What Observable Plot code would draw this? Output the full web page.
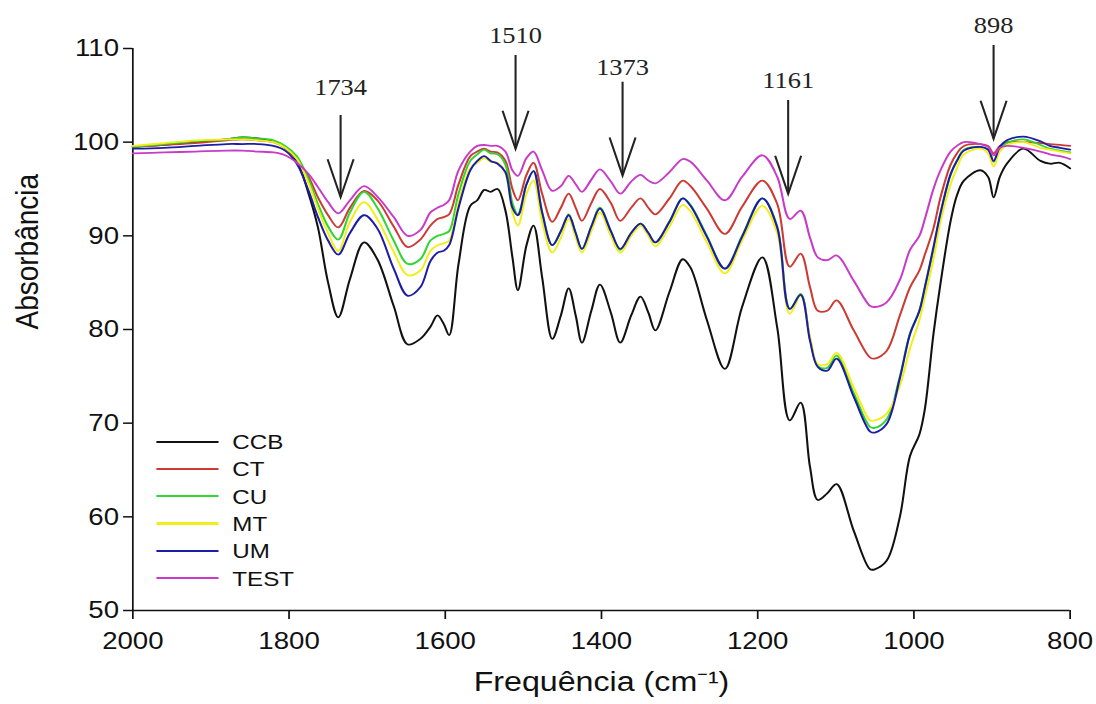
<!DOCTYPE html>
<html><head><meta charset="utf-8">
<script src="https://cdn.jsdelivr.net/npm/d3@7"></script>
<script src="https://cdn.jsdelivr.net/npm/@observablehq/plot@0.6"></script>
<style>
html,body{margin:0;padding:0;background:#fff;overflow:hidden}
#wrap{position:relative;width:953px;height:704px;transform:scaleX(1.15006);transform-origin:0 0;font-family:"Liberation Sans",Arial,sans-serif}
#legend{position:absolute;left:136px;top:428px}
.row{display:flex;align-items:center;height:27.3px}
.sw{width:54px;height:2.2px;margin-right:12px}
.lab{font-size:21px;color:#111;line-height:1}
</style></head><body><div id="wrap"><div id="chart"></div><div id="legend"></div></div>
<script>
const wavenumbers = [2000,1960,1920,1880,1860,1840,1820,1805,1790,1775,
 1763,1750,1737,1722,1704,1687,1666,1648,1632,1619,
 1610,1602,1595,1583,1568,1559,1550,1542,1533,1523,
 1514,1507,1496,1487,1476,1463,1452,1442,1433,1425,
 1413,1402,1388,1376,1362,1350,1340,1331,1313,1296,
 1286,1265,1242,1220,1194,1175,1159,1145,1133,1123,
 1111,1099,1077,1056,1050,1035,1018,1005,993,986,
 975,966,953,945,936,915,905,898,890,881,
 860,838,826,813,800];
const CCB = [99.5,99.7,100.0,100.3,100.5,100.4,100.1,99.4,98.0,94.5,
 90.9,85.0,81.3,85.4,89.3,87.5,82.5,78.4,79.0,80.3,
 81.5,80.6,79.4,87.0,93.2,93.8,94.9,94.7,95.0,92.7,
 87.7,84.2,89.0,91.1,85.6,79.0,81.5,84.4,81.5,78.6,
 82.0,84.8,81.8,78.6,81.5,83.5,81.8,79.9,84.0,87.5,
 86.6,81.0,75.8,82.4,87.7,80.2,70.3,72.2,65.3,61.8,
 62.5,63.5,58.5,54.4,54.4,55.3,60.0,66.5,68.8,71.5,
 79.5,84.9,91.6,94.3,95.9,97.0,96.3,94.1,96.3,97.7,
 99.3,98.0,97.7,97.8,97.2];
const CT = [99.5,99.7,99.9,100.2,100.3,100.2,100.0,99.4,98.2,96.3,
 94.1,92.2,90.9,93.0,94.8,93.8,91.0,88.8,89.6,91.1,
 91.8,92.0,92.3,95.5,98.5,99.0,99.3,99.0,98.9,98.0,
 95.0,93.8,96.5,97.8,94.5,91.5,93.0,94.5,93.0,91.6,
 93.5,95.0,93.5,91.6,93.0,94.0,93.0,92.3,94.0,95.9,
 95.3,92.9,90.2,93.1,95.9,93.4,86.7,88.1,84.5,82.0,
 82.0,83.1,79.9,77.0,76.9,77.7,81.5,84.5,86.3,88.0,
 90.8,94.1,97.6,98.8,99.6,99.8,99.6,98.8,99.6,100.0,
 100.0,99.9,99.8,99.7,99.6];
const CU = [99.5,99.8,100.1,100.3,100.5,100.4,100.2,99.6,98.5,96.0,
 93.4,91.0,89.6,92.5,94.7,93.0,89.5,87.0,87.5,89.5,
 90.0,90.2,90.5,94.5,98.0,98.7,99.2,98.8,98.7,97.6,
 93.5,92.3,95.5,96.9,92.5,89.0,90.5,92.3,90.3,88.6,
 91.0,93.0,90.5,88.5,90.3,91.3,90.3,89.3,91.5,94.0,
 93.3,90.0,86.5,90.0,94.0,91.0,82.2,83.8,79.0,76.1,
 75.9,77.2,73.2,69.6,69.5,70.4,75.0,79.6,82.0,84.5,
 88.5,92.4,96.5,98.0,99.2,99.5,99.2,97.9,99.3,99.9,
 100.3,99.7,99.3,99.1,98.9];
const MT = [99.6,99.9,100.2,100.3,100.3,100.2,100.0,99.4,98.2,95.6,
 92.9,90.3,88.4,91.5,93.6,91.8,88.3,85.8,86.3,88.4,
 89.0,89.2,89.5,93.5,97.2,97.8,98.3,97.9,97.8,96.7,
 92.5,91.1,94.5,95.9,91.5,88.2,89.8,91.8,89.8,88.2,
 90.5,92.5,90.0,88.2,90.0,91.1,90.0,88.9,91.0,93.3,
 92.6,89.3,86.0,89.5,93.2,90.3,81.7,83.6,79.2,76.3,
 76.3,77.5,73.8,70.3,70.3,71.0,74.0,78.0,81.0,83.5,
 87.5,91.5,95.5,97.2,98.7,99.3,98.8,97.4,99.0,99.7,
 100.0,99.4,99.2,99.0,98.8];
const UM = [99.3,99.4,99.6,99.8,99.8,99.8,99.6,99.1,97.7,94.8,
 92.0,89.5,88.0,90.3,92.2,90.8,86.5,83.6,84.5,87.3,
 88.2,88.4,89.0,93.0,97.0,98.0,98.5,98.0,97.7,96.8,
 93.0,92.2,95.5,96.9,92.5,89.0,90.5,92.2,90.3,88.6,
 91.0,92.9,90.5,88.6,90.3,91.3,90.3,89.3,91.5,94.0,
 93.2,89.9,86.5,89.9,94.0,90.9,82.2,83.7,78.8,76.0,
 75.6,76.9,72.8,69.1,69.0,69.9,74.8,79.5,82.0,84.5,
 88.8,92.4,96.6,98.0,99.1,99.5,99.2,98.0,99.5,100.2,
 100.6,100.1,99.6,99.4,99.2];
const TEST = [98.8,98.9,99.0,99.1,99.1,99.0,98.9,98.6,97.8,96.6,
 95.2,93.6,92.4,93.8,95.3,94.2,92.0,90.0,90.6,92.5,
 93.0,93.3,93.8,97.0,99.0,99.6,99.7,99.6,99.6,99.0,
 97.0,96.4,98.3,99.0,97.0,94.8,95.3,96.4,95.5,94.7,
 96.0,97.1,95.8,94.5,95.8,96.5,95.9,95.6,96.8,98.2,
 97.9,95.9,93.8,96.3,98.6,96.3,91.8,92.7,89.8,87.7,
 87.4,87.9,85.2,82.5,82.4,82.9,85.3,88.5,90.0,91.8,
 95.0,97.0,99.0,99.6,100.0,99.8,99.5,98.6,99.4,99.6,
 99.4,99.0,98.7,98.5,98.2];
const seriesNames = ["CCB","CT","CU","MT","UM","TEST"];
const seriesColors = ["#111111","#cc3a33","#2fd62f","#f2ee1c","#1c1ca6","#c83ac8"];
const xDomain = [2000, 800];
const yDomain = [50, 110];
const xTicks = [2000,1800,1600,1400,1200,1000,800];
const yTicks = [50,60,70,80,90,100,110];
const peakLabels = [1734,1510,1373,1161,898];
const arrowTop = [102.85,109.25,106.4,104.45,110.32];
const arrowTip = [94.13,99.29,96.44,94.49,100.36];
const labelY = [105.87,111.39,108.0,106.58,112.46];
const xTitle = "Frequência (cm⁻¹)";
const yTitle = "Absorbância";

const seriesValues = [CCB, CT, CU, MT, UM, TEST];
const rows = [];
seriesNames.forEach((name, k) => wavenumbers.forEach((w, i) => rows.push({series: name, wn: w, abs: seriesValues[k][i]})));
const annotations = peakLabels.map((p, i) => ({wn: p, top: arrowTop[i], tip: arrowTip[i], ly: labelY[i]}));

const arrowHead = {draw(ctx) { ctx.moveTo(-11.3, -38); ctx.lineTo(0, 0); ctx.lineTo(11.3, -38); }};

const chart = Plot.plot({
  width: 953, height: 704,
  marginLeft: 115, marginRight: 23, marginTop: 48, marginBottom: 94,
  style: {fontFamily: '"Liberation Sans", Arial, sans-serif', fontSize: "24px", color: "#111", background: "#fff"},
  x: {domain: xDomain},
  y: {domain: yDomain},
  color: {domain: seriesNames, range: seriesColors},
  marks: [
    Plot.axisX({ticks: xTicks, tickFormat: d => String(d), tickSize: 9, tickPadding: 12, label: null, strokeWidth: 1.5, fontSize: 24}),
    Plot.axisY({ticks: yTicks, tickFormat: d => String(d), tickSize: 8, tickPadding: 4, label: null, strokeWidth: 1.5, fontSize: 24}),
    Plot.ruleY([yDomain[0]], {stroke: "#111", strokeWidth: 1.5}),
    Plot.ruleX([xDomain[0]], {stroke: "#111", strokeWidth: 1.5}),
    Plot.line(rows, {x: "wn", y: "abs", z: "series", stroke: "series", strokeWidth: 1.8, curve: "catmull-rom"}),
    Plot.ruleX(annotations, {x: "wn", y1: "top", y2: "tip", stroke: "#222", strokeWidth: 1.8}),
    Plot.dot(annotations, {x: "wn", y: "tip", symbol: arrowHead, fill: "none", stroke: "#222", strokeWidth: 1.8}),
    Plot.text(annotations, {x: "wn", y: "ly", text: d => String(d.wn), fontFamily: '"Liberation Serif", serif', fontSize: 23, fill: "#222"}),
    Plot.text([yTitle], {frameAnchor: "left", rotate: -90, dx: -91, fontSize: 28}),
    Plot.text([xTitle], {frameAnchor: "bottom", dy: 80, fontSize: 28})
  ]
});
document.getElementById("chart").appendChild(chart);

const legend = document.getElementById("legend");
seriesNames.forEach((name, k) => {
  const row = document.createElement("div");
  row.className = "row";
  const sw = document.createElement("div");
  sw.className = "sw";
  sw.style.background = seriesColors[k];
  const lab = document.createElement("span");
  lab.className = "lab";
  lab.textContent = name;
  row.appendChild(sw); row.appendChild(lab);
  legend.appendChild(row);
});
</script>
</body></html>
